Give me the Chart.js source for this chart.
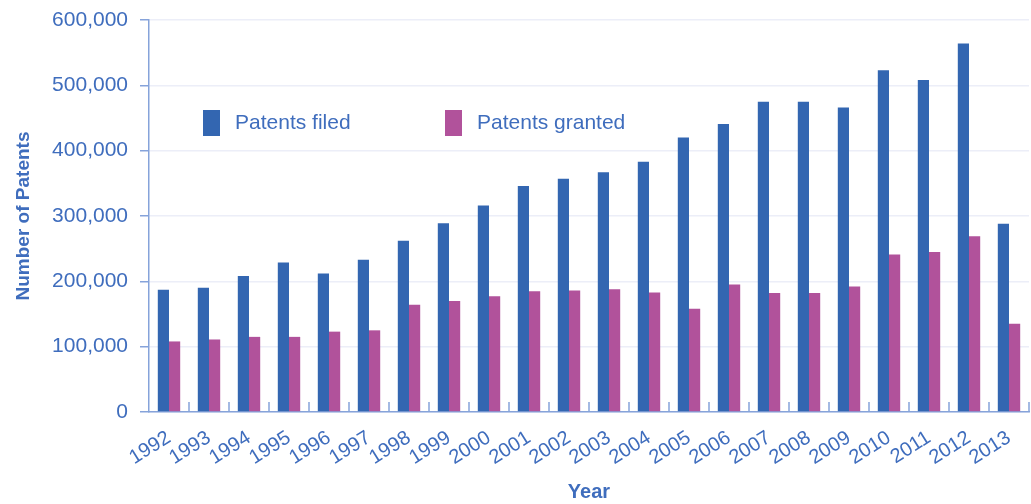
<!DOCTYPE html>
<html>
<head>
<meta charset="utf-8">
<script src="https://cdn.jsdelivr.net/npm/chart.js@4/dist/chart.umd.min.js"></script>
<style>
  html, body { margin: 0; padding: 0; background: #fff; }
  #wrap { width: 1031px; height: 504px; position: relative; }
</style>
</head>
<body>
<div id="wrap"><canvas id="patentChart"></canvas></div>
<script>
// --- Data ---
const years = ['1992', '1993', '1994', '1995', '1996', '1997', '1998', '1999', '2000', '2001', '2002',
  '2003', '2004', '2005', '2006', '2007', '2008', '2009', '2010', '2011', '2012', '2013'];
const patentsFiled = [187000, 190000, 208000, 229000, 212000, 233000, 262000, 289000, 316000, 346000, 357000,
  367000, 383000, 420000, 441000, 475000, 475000, 466000, 523000, 508000, 564000, 288000];
const patentsGranted = [108000, 111000, 115000, 115000, 123000, 125000, 164000, 170000, 177000, 185000, 186000,
  188000, 183000, 158000, 195000, 182000, 182000, 192000, 241000, 245000, 269000, 135000];
const yTicks = [0, 100000, 200000, 300000, 400000, 500000, 600000];

// --- Style ---
const TEXT_BLUE = '#3f6dbd';
const AXIS_BLUE = '#86a3da';
const GRID_LIGHT = '#eceef8';
const FILED_COLOR = '#3366b1';
const GRANTED_COLOR = '#b1529b';
const FONT = "'Liberation Sans', Arial, Helvetica, sans-serif";

// small tick marks between categories, drawn upward from the x axis
const innerTicks = {
    id: 'innerTicks',
    afterDatasetsDraw(chart) {
        const x = chart.scales.x;
        const ctx = chart.ctx;
        const n = years.length;
        ctx.save();
        ctx.strokeStyle = AXIS_BLUE;
        ctx.lineWidth = 1.5;
        for (let i = 1; i <= n; i++) {
            const px = i < n ? (x.getPixelForTick(i - 1) + x.getPixelForTick(i)) / 2 : chart.chartArea.right;
            ctx.beginPath();
            ctx.moveTo(px, x.top);
            ctx.lineTo(px, x.top - 10);
            ctx.stroke();
        }
        ctx.restore();
    }
};

// legend drawn inside the plot area
const insideLegend = {
    id: 'insideLegend',
    afterDraw(chart) {
        const ctx = chart.ctx;
        const spots = [203, 445];
        ctx.save();
        ctx.font = '21px ' + FONT;
        ctx.textBaseline = 'middle';
        chart.data.datasets.forEach((ds, i) => {
            const bx = spots[i];
            ctx.fillStyle = ds.backgroundColor;
            ctx.fillRect(bx, 110, 17, 26);
            ctx.fillStyle = TEXT_BLUE;
            ctx.fillText(ds.label, bx + 32, 123);
        });
        ctx.restore();
    }
};

const ctx = document.getElementById('patentChart').getContext('2d');
new Chart(ctx, {
    type: 'bar',
    data: {
        labels: years,
        datasets: [
            { label: 'Patents filed', data: patentsFiled, backgroundColor: FILED_COLOR },
            { label: 'Patents granted', data: patentsGranted, backgroundColor: GRANTED_COLOR }
        ]
    },
    options: {
        responsive: true,
        maintainAspectRatio: false,
        animation: false,
        layout: { padding: { top: 20, right: 2, left: 0, bottom: 0 } },
        datasets: { bar: { categoryPercentage: 0.56, barPercentage: 1.0 } },
        plugins: {
            legend: { display: false },
            tooltip: { enabled: false }
        },
        scales: {
            x: {
                offset: true,
                grid: { display: false },
                border: { display: true, color: AXIS_BLUE, width: 1.5 },
                ticks: {
                    color: TEXT_BLUE,
                    font: { family: FONT, size: 20 },
                    minRotation: 32,
                    maxRotation: 32,
                    autoSkip: false,
                    padding: 6
                },
                title: {
                    display: true,
                    text: 'Year',
                    color: TEXT_BLUE,
                    font: { family: FONT, size: 20, weight: 'bold' },
                    padding: { top: 0, bottom: 0 }
                },
                afterFit(scale) { scale.height = 92; }
            },
            y: {
                min: 0,
                max: 600000,
                afterBuildTicks(scale) { scale.ticks = yTicks.map(v => ({ value: v })); },
                grid: { color: GRID_LIGHT, lineWidth: 1.5, tickColor: AXIS_BLUE, tickLength: 9 },
                border: { display: true, color: AXIS_BLUE, width: 1.5 },
                ticks: {
                    color: TEXT_BLUE,
                    font: { family: FONT, size: 21 },
                    padding: 12,
                    callback: v => v.toLocaleString('en-US')
                },
                title: {
                    display: true,
                    text: 'Number of Patents',
                    color: TEXT_BLUE,
                    font: { family: FONT, size: 19, weight: 'bold' },
                    padding: { top: 12, bottom: 0 }
                },
                afterFit(scale) {
                    scale.width = 149;
                    scale.paddingTop = 0;
                    scale.paddingBottom = 0;
                }
            }
        }
    },
    plugins: [innerTicks, insideLegend]
});
</script>
</body>
</html>
